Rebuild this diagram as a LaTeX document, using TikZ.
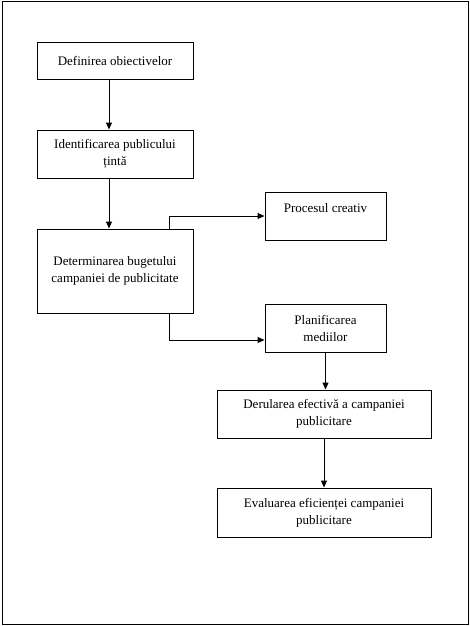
\documentclass[tikz,border=0pt]{standalone}
\usepackage{fontspec}
\setmainfont{Liberation Serif}
\usetikzlibrary{arrows.meta,positioning,calc}

\begin{document}
\begin{tikzpicture}[
    x=1pt,y=-1pt,
    block/.style={draw,line width=1pt,inner sep=0pt,align=center,font=\fontsize{13}{17}\selectfont},
    arr/.style={line width=1pt,-{Triangle[length=7pt,width=6pt]}},
]
    \useasboundingbox (0,0) rectangle (470,626);
    \draw[line width=1pt] (2,1.5) rectangle (468.5,624);

    \node[block,minimum width=156pt,minimum height=36pt] (obiective) at (115,61) {Definirea obiectivelor};
    \node[block,minimum width=156pt,minimum height=48pt] (public) at (115,154) {Identificarea publicului\\ țintă};
    \node[block,minimum width=156pt,minimum height=84pt] (buget) at (115,271) {Determinarea bugetului\\ campaniei de publicitate};
    \node[block,minimum width=121pt,minimum height=48pt] (creativ) at (325.5,216) {Procesul creativ\\ \mbox{}};
    \node[block,minimum width=121pt,minimum height=48pt] (medii) at (325.5,328) {Planificarea\\ mediilor};
    \node[block,minimum width=214pt,minimum height=48pt] (derulare) at (324,414) {Derularea efectivă a campaniei\\ publicitare};
    \node[block,minimum width=214pt,minimum height=49pt] (evaluare) at (324,512.5) {Evaluarea eficienței campaniei\\ publicitare};

    \draw[arr] ([xshift=-6pt]obiective.south) -- ([xshift=-6pt]public.north);
    \draw[arr] ([xshift=-6pt]public.south) -- ([xshift=-6pt]buget.north);
    \draw[arr] ([xshift=54pt]buget.north) |- (creativ.west);
    \draw[arr] ([xshift=54pt]buget.south) |- ([yshift=-12pt]medii.west);
    \draw[arr] (medii.south) -- (medii.south |- derulare.north);
    \draw[arr] (derulare.south) -- (evaluare.north);
\end{tikzpicture}
\end{document}
